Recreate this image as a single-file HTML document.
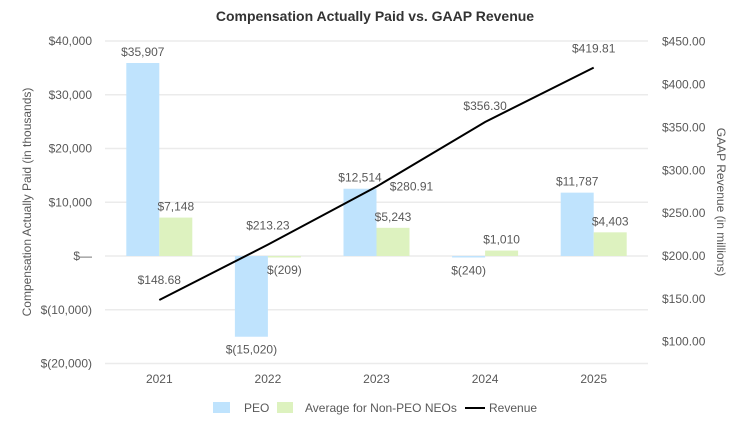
<!DOCTYPE html>
<html><head><meta charset="utf-8"><style>
body{margin:0;background:#fff;}
svg text{font-family:"Liberation Sans",Arial,sans-serif;fill:#595959;}
</style></head><body>
<svg width="750" height="427" viewBox="0 0 750 427">
<text x="375" y="21" text-anchor="middle" font-size="14" font-weight="bold" style="fill:#333">Compensation Actually Paid vs. GAAP Revenue</text>
<g id="grid"></g><g id="bars"></g><g id="line"></g><g id="labels"></g>
<text transform="translate(31,202) rotate(-90)" text-anchor="middle" font-size="12">Compensation Actually Paid (in thousands)</text>
<text transform="translate(717,202) rotate(90)" text-anchor="middle" font-size="12">GAAP Revenue (in millions)</text>
<g>
<rect x="213" y="402" width="17" height="11" fill="#bfe3fd"/>
<text x="244" y="412" font-size="12">PEO</text>
<rect x="277" y="402" width="16" height="11" fill="#ddf2bf"/>
<text x="305" y="412" font-size="12">Average for Non-PEO NEOs</text>
<line x1="465" y1="408" x2="485" y2="408" stroke="#000" stroke-width="2"/>
<text x="489" y="412" font-size="12">Revenue</text>
</g>
</svg>
<script>
const categories=["2021","2022","2023","2024","2025"];
const peo=[35907,-15020,12514,-240,11787];
const neo=[7148,-209,5243,1010,4403];
const revenue=[148.68,213.23,280.91,356.30,419.81];
const leftTicks=[40000,30000,20000,10000,0,-10000,-20000];
const leftTickLabels=["$40,000","$30,000","$20,000","$10,000","$—","$(10,000)","$(20,000)"];
const rightTicks=[450,400,350,300,250,200,150,100];
const fmtK=v=>v<0?"$("+(-v).toLocaleString("en-US")+")":"$"+v.toLocaleString("en-US");
const NS="http://www.w3.org/2000/svg";
const X0=105,X1=648,band=(X1-X0)/categories.length;
const xc=i=>X0+band*(i+0.5);
const yL=v=>256-v*(53.75/10000);
const yR=v=>256-(v-200)*(300/350);
function mk(tag,attrs,parent,text){const e=document.createElementNS(NS,tag);for(const k in attrs)e.setAttribute(k,attrs[k]);if(text!==undefined)e.textContent=text;document.getElementById(parent).appendChild(e);return e;}
leftTicks.forEach((t,i)=>{
 const g=mk("line",{x1:X0,x2:X1,y1:yL(t),y2:yL(t),stroke:"#ebebeb","stroke-width":1.5},"grid");
 
 
 const l=mk("text",{x:92,y:yL(t)+4,"text-anchor":"end","font-size":12},"grid",leftTickLabels[i]);
 
 
});
rightTicks.forEach(t=>{
 const l=mk("text",{x:662,y:yR(t)+4,"font-size":12},"grid","$"+t.toFixed(2));
 
 
});
categories.forEach((c,i)=>{
 const l=mk("text",{x:xc(i),y:383,"text-anchor":"middle","font-size":12},"grid",c);
 
 
});
const bw=33;
categories.forEach((c,i)=>{
 [[peo,"#bfe3fd",-bw,"peo"],[neo,"#ddf2bf",0,"neo"]].forEach(([arr,col,off,nm])=>{
  const v=arr[i],y0=yL(0),y=yL(v);
  const r=mk("rect",{x:xc(i)+off,y:Math.min(y,y0),width:bw,height:Math.max(Math.abs(y-y0),1.5),fill:col},"bars");
  
  
  const ly=v>=0?y-7:y+17;
  const t=mk("text",{x:xc(i)+off+bw/2,y:ly,"text-anchor":"middle","font-size":12},"labels",fmtK(v));
  
  
 });
});
const pts=revenue.map((v,i)=>xc(i)+","+yR(v)).join(" ");
const pl=mk("polyline",{points:pts,fill:"none",stroke:"#000","stroke-width":2},"line");


const revOff=[[0,-16],[0,-15],[35,4],[0,-12],[0,-15]];
revenue.forEach((v,i)=>{
 const t=mk("text",{x:xc(i)+revOff[i][0],y:yR(v)+revOff[i][1],"text-anchor":"middle","font-size":12},"labels","$"+v.toFixed(2));
 
 
});
</script>
</body></html>
